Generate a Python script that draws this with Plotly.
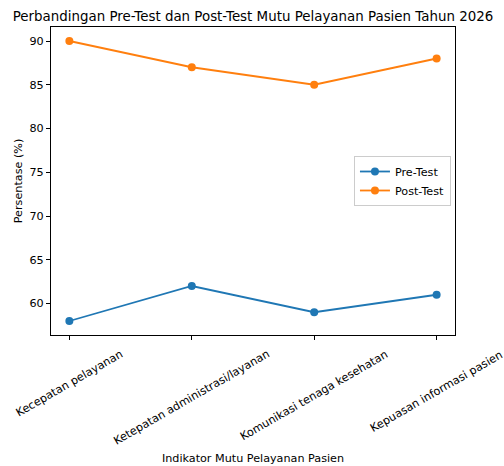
import plotly.graph_objects as go

categories = ["Kecepatan pelayanan", "Ketepatan administrasi/layanan",
              "Komunikasi tenaga kesehatan", "Kepuasan informasi pasien"]
pre_test = [58, 62, 59, 61]
post_test = [90, 87, 85, 88]
y_ticks = [60, 65, 70, 75, 80, 85, 90]

FONT = "DejaVu Sans"
TXT = 11.2

fig = go.Figure()
fig.add_trace(go.Scatter(x=categories, y=pre_test, mode="lines+markers", name="Pre-Test",
                         line=dict(color="#1f77b4", width=1.8),
                         marker=dict(color="#1f77b4", size=8)))
fig.add_trace(go.Scatter(x=categories, y=post_test, mode="lines+markers", name="Post-Test",
                         line=dict(color="#ff7f0e", width=1.8),
                         marker=dict(color="#ff7f0e", size=8)))

for c in categories:
    fig.add_annotation(x=c, xref="x", y=0, yref="paper", text=c, showarrow=False,
                       textangle=-30, xanchor="center", yanchor="top", yshift=-10,
                       font=dict(family=FONT, size=TXT, color="black"))

fig.update_layout(
    width=504, height=466,
    margin=dict(l=51, r=49, t=27, b=131),
    paper_bgcolor="white", plot_bgcolor="white",
    font=dict(family=FONT, size=TXT, color="black"),
    title=dict(text="Perbandingan Pre-Test dan Post-Test Mutu Pelayanan Pasien Tahun 2026",
               x=0.5, xref="paper", xanchor="center", y=0.966, yanchor="middle",
               font=dict(family=FONT, size=13.4, color="black")),
    xaxis=dict(type="category", range=[-0.15, 3.15], showline=True, linecolor="black",
               linewidth=1, mirror=True, ticks="outside", ticklen=4, tickcolor="black",
               showticklabels=False, showgrid=False, zeroline=False, automargin=False,
               title=dict(text="Indikator Mutu Pelayanan Pasien", standoff=115,
                          font=dict(family=FONT, size=TXT, color="black"))),
    yaxis=dict(range=[56.4, 91.6], tickvals=y_ticks, showline=True, linecolor="black",
               linewidth=1, mirror=True, ticks="outside", ticklen=4, tickcolor="black",
               tickfont=dict(family=FONT, size=TXT, color="black"),
               showgrid=False, zeroline=False, automargin=False,
               title=dict(text="Persentase (%)", standoff=4,
                          font=dict(family=FONT, size=TXT, color="black"))),
    legend=dict(x=0.99, xanchor="right", y=0.5, yanchor="middle", itemwidth=30,
                bordercolor="#cccccc", borderwidth=1, bgcolor="rgba(255,255,255,0.8)",
                font=dict(family=FONT, size=TXT, color="black")),
    showlegend=True,
)

fig.write_html("out.html", config={"displayModeBar": False},
               post_script="document.body.style.margin='0';")
